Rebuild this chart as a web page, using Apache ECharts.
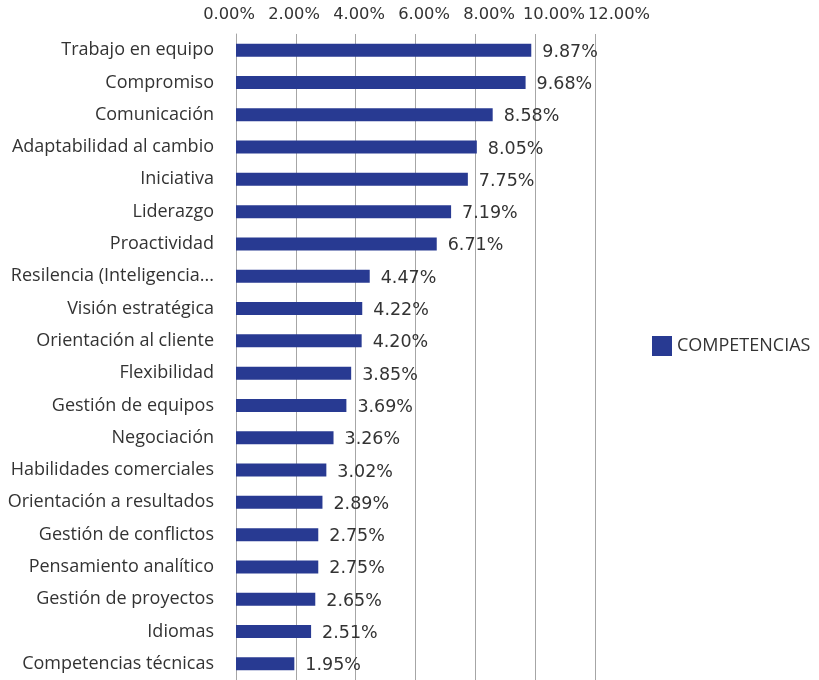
<!DOCTYPE html>
<html>
<head>
<meta charset="utf-8">
<script src="https://cdn.jsdelivr.net/npm/echarts@6/dist/echarts.min.js"></script>
<style>
  html, body { margin: 0; padding: 0; background: #fff; }
  #chart { width: 819px; height: 680px; }
</style>
</head>
<body>
<div id="chart"></div>
<script>
// Competencias más demandadas (porcentaje)
var categories = [
  'Trabajo en equipo', 'Compromiso', 'Comunicación', 'Adaptabilidad al cambio',
  'Iniciativa', 'Liderazgo', 'Proactividad', 'Resilencia (Inteligencia...',
  'Visión estratégica', 'Orientación al cliente', 'Flexibilidad', 'Gestión de equipos',
  'Negociación', 'Habilidades comerciales', 'Orientación a resultados',
  'Gestión de conflictos', 'Pensamiento analítico', 'Gestión de proyectos',
  'Idiomas', 'Competencias técnicas'
];
var values = [
  9.87, 9.68, 8.58, 8.05, 7.75, 7.19, 6.71, 4.47, 4.22, 4.20,
  3.85, 3.69, 3.26, 3.02, 2.89, 2.75, 2.75, 2.65, 2.51, 1.95
];
var seriesName = 'COMPETENCIAS';
var axisMin = 0, axisMax = 12, axisStep = 2;

var textFont = '"Open Sans", sans-serif';
var numFont = '"DejaVu Sans", sans-serif';
var pct = function (v) { return v.toFixed(2) + '%'; };

var chart = echarts.init(document.getElementById('chart'));
chart.setOption({
  animation: false,
  textStyle: { fontFamily: textFont },
  legend: {
    data: [seriesName],
    left: 647,
    top: 331,
    itemWidth: 20,
    itemHeight: 20,
    itemGap: 6,
    icon: 'rect',
    textStyle: { fontFamily: textFont, fontSize: 18, color: '#333' }
  },
  grid: [
    { left: 236, top: 34, width: 359, height: 648 },
    // header strip that carries the percentage scale labels
    { left: 229, top: 34, width: 390, height: 1 }
  ],
  xAxis: [{
    type: 'value',
    gridIndex: 0,
    position: 'top',
    min: axisMin,
    max: axisMax,
    interval: axisStep,
    axisLine: { show: false },
    axisTick: { show: false },
    axisLabel: { show: false },
    splitLine: { show: true, lineStyle: { color: '#a6a6a6', width: 1 } }
  }, {
    type: 'value',
    gridIndex: 1,
    position: 'top',
    min: axisMin,
    max: axisMax,
    interval: axisStep,
    axisLine: { show: false },
    axisTick: { show: false },
    splitLine: { show: false },
    axisLabel: { margin: 11, fontSize: 16.3, fontFamily: numFont, color: '#333', formatter: pct }
  }],
  yAxis: [{
    type: 'category',
    gridIndex: 0,
    data: categories,
    inverse: true,
    axisLine: { show: true, lineStyle: { color: '#a6a6a6' } },
    axisTick: { show: false },
    axisLabel: { margin: 22, fontSize: 18, color: '#333', padding: [0, 0, 6, 0] }
  }, {
    type: 'value',
    gridIndex: 1,
    show: false
  }],
  series: [{
    name: seriesName,
    type: 'bar',
    xAxisIndex: 0,
    yAxisIndex: 0,
    data: values,
    barWidth: 13,
    itemStyle: { color: '#283a92' },
    label: {
      show: true,
      position: 'right',
      distance: 11,
      offset: [0, 2],
      fontSize: 17.5,
      fontFamily: numFont,
      color: '#333',
      formatter: function (p) { return pct(p.value); }
    }
  }]
});
</script>
</body>
</html>
